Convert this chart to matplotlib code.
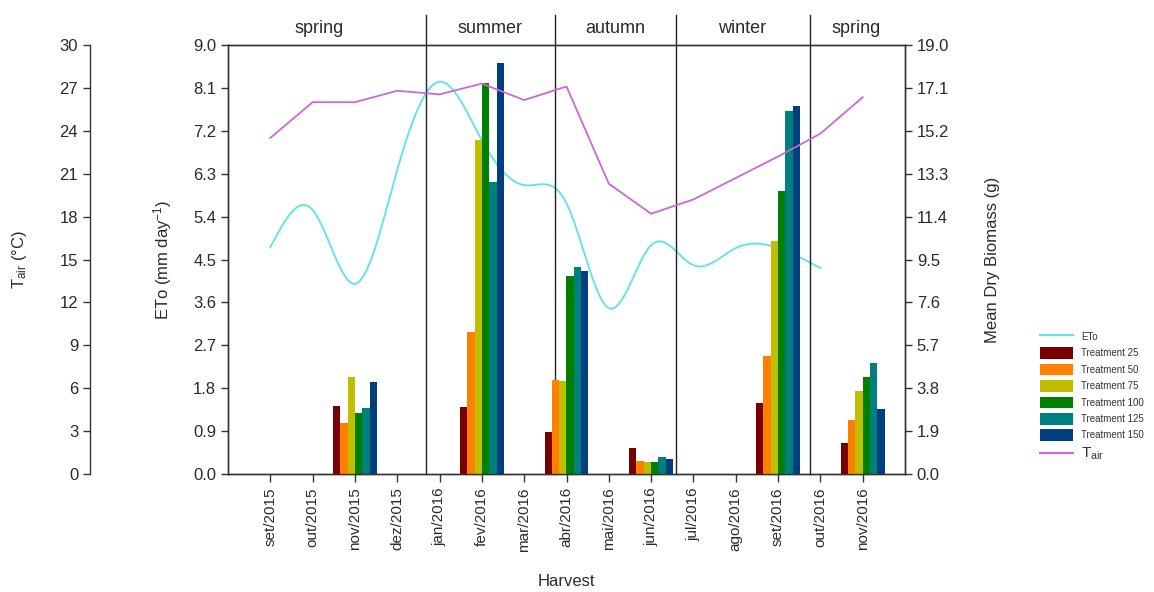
import numpy as np
import matplotlib
matplotlib.use("Agg")
import matplotlib.pyplot as plt
from matplotlib.patches import Patch
from matplotlib.lines import Line2D

plt.rcParams['font.family'] = ['Liberation Sans', 'DejaVu Sans']
plt.rcParams['mathtext.fontset'] = 'custom'
plt.rcParams['mathtext.rm'] = 'Liberation Sans'
plt.rcParams['mathtext.it'] = 'Liberation Sans:italic'
plt.rcParams['mathtext.bf'] = 'Liberation Sans:bold'

# ---- data ----
months = ["set/2015", "out/2015", "nov/2015", "dez/2015", "jan/2016", "fev/2016",
          "mar/2016", "abr/2016", "mai/2016", "jun/2016", "jul/2016", "ago/2016",
          "set/2016", "out/2016", "nov/2016"]

# monthly reference evapotranspiration (mm/day), set/2015 .. out/2016
eto = [4.76, 5.54, 3.99, 6.38, 8.23, 7.00, 6.06, 5.68, 3.48, 4.80, 4.38, 4.74, 4.74, 4.32]

# monthly mean air temperature (°C), set/2015 .. nov/2016
tair = [23.5, 26.0, 26.0, 26.8, 26.55, 27.3, 26.15, 27.1, 20.3, 18.2, 19.2, 20.7, 22.2, 23.8, 26.35]

# harvests and mean dry biomass (g) per treatment
harvests = ["nov/2015", "fev/2016", "abr/2016", "jun/2016", "set/2016", "nov/2016"]
treatments = ["Treatment 25", "Treatment 50", "Treatment 75",
              "Treatment 100", "Treatment 125", "Treatment 150"]
t25 = [3.02, 2.95, 1.84, 1.14, 3.13, 1.36]
t50 = [2.26, 6.30, 4.18, 0.58, 5.21, 2.39]
t75 = [4.31, 14.79, 4.10, 0.53, 10.33, 3.69]
t100 = [2.68, 17.30, 8.78, 0.52, 12.55, 4.31]
t125 = [2.92, 12.92, 9.15, 0.75, 16.09, 4.90]
t150 = [4.06, 18.22, 9.00, 0.65, 16.32, 2.88]

seasons = ["spring", "summer", "autumn", "winter", "spring"]
season_bounds = [3.67, 6.74, 9.59, 12.75]     # season changes, in month units
season_label_x = [1.15, 5.2, 8.15, 11.15, 13.85]

eto_ticks = [0.0, 0.9, 1.8, 2.7, 3.6, 4.5, 5.4, 6.3, 7.2, 8.1, 9.0]
tair_ticks = [0, 3, 6, 9, 12, 15, 18, 21, 24, 27, 30]
bio_ticks = [0.0, 1.9, 3.8, 5.7, 7.6, 9.5, 11.4, 13.3, 15.2, 17.1, 19.0]

bar_colors = ["#7a0000", "#ff7f00", "#bfbf00", "#007f00", "#007f7f", "#003f7f"]
eto_color = "#66e3ea"
tair_color = "#cc66dd"
text_color = "#2a2a2a"


def natural_spline(x, y, xs):
    x = np.asarray(x, float)
    y = np.asarray(y, float)
    n = len(x)
    h = np.diff(x)
    A = np.zeros((n, n))
    r = np.zeros(n)
    A[0, 0] = A[-1, -1] = 1.0
    for i in range(1, n - 1):
        A[i, i - 1] = h[i - 1]
        A[i, i] = 2 * (h[i - 1] + h[i])
        A[i, i + 1] = h[i]
        r[i] = 6 * ((y[i + 1] - y[i]) / h[i] - (y[i] - y[i - 1]) / h[i - 1])
    M = np.linalg.solve(A, r)
    idx = np.clip(np.searchsorted(x, xs) - 1, 0, n - 2)
    x0, x1 = x[idx], x[idx + 1]
    hh = x1 - x0
    a = (x1 - xs) / hh
    b = (xs - x0) / hh
    return (a * y[idx] + b * y[idx + 1]
            + ((a ** 3 - a) * M[idx] + (b ** 3 - b) * M[idx + 1]) * hh ** 2 / 6)


W, H = 1154, 592
fig = plt.figure(figsize=(W / 100, H / 100), dpi=100)
L, R, B, T = 228, 905, 474, 45
ax = fig.add_axes([L / W, 1 - B / H, (R - L) / W, (B - T) / H])
ax_b = ax.twinx()
ax_t = ax.twinx()

xm = np.arange(len(months))
tick_fs = 12

# ETo spline
xe = xm[:len(eto)]
xs = np.linspace(xe[0], xe[-1], 400)
eto_line, = ax.plot(xs, natural_spline(xe, eto, xs), color=eto_color, lw=1.4, zorder=2)
ax.set_ylim(0, 9)
ax.set_xlim(-1, 15)
ax.set_yticks(eto_ticks)
ax.set_yticklabels([f"{v:.1f}" for v in eto_ticks])
ax.set_ylabel("ETo (mm day$^{-1}$)", fontsize=12, color=text_color, labelpad=14)
ax.set_xticks(xm)
ax.set_xticklabels(months, rotation=90, fontsize=11, color=text_color)
ax.set_xlabel("Harvest", fontsize=12, color=text_color, labelpad=16)

# biomass bars
series = [t25, t50, t75, t100, t125, t150]
hx = np.array([months.index(h) for h in harvests])
bw = 0.173
bar_handles = []
for k, (vals, col) in enumerate(zip(series, bar_colors)):
    ax_b.bar(hx + (k - 2.5) * bw, vals, width=bw, color=col, lw=0, zorder=2)
    bar_handles.append(Patch(facecolor=col, label=treatments[k]))
ax_b.set_ylim(0, 19)
ax_b.set_yticks(bio_ticks)
ax_b.set_yticklabels([f"{v:.1f}" for v in bio_ticks])
ax_b.set_ylabel("Mean Dry Biomass (g)", fontsize=12, color=text_color, labelpad=26)

# air temperature
ax_t.plot(xm, tair, color=tair_color, lw=1.3, zorder=3)
ax_t.set_ylim(0, 30)
ax_t.set_yticks(tair_ticks)
ax_t.yaxis.set_ticks_position("left")
ax_t.yaxis.set_label_position("left")
ax_t.spines["left"].set_position(("axes", (90 - L) / (R - L)))
for s in ("right", "top", "bottom"):
    ax_t.spines[s].set_visible(False)
ax_t.spines["left"].set_visible(True)
ax_t.set_ylabel(r"T$_{\mathregular{air}}$ (°C)", fontsize=12, color=text_color, labelpad=22)

for a in (ax, ax_b, ax_t):
    a.tick_params(axis="y", direction="out", length=5, width=1, labelsize=tick_fs,
                  labelcolor=text_color, color="#333333")
    for s in a.spines.values():
        s.set_color("#333333")
        s.set_linewidth(1.0)
ax.tick_params(axis="x", direction="out", length=6, width=1, color="#333333")

# season dividers and names
ytop = (B - 15) / (B - T)
for xb in season_bounds:
    ax.axvline(xb, ymin=0, ymax=ytop, color="#222222", lw=1.0, clip_on=False, zorder=4)
for name, xl in zip(seasons, season_label_x):
    ax.text(xl, 1.038, name, transform=ax.get_xaxis_transform(), ha="center", va="center",
            fontsize=13, color=text_color)

# legend
handles = [Line2D([], [], color=eto_color, lw=1.5)] + bar_handles + \
          [Line2D([], [], color=tair_color, lw=1.5)]
labels = ["ETo"] + treatments + [r"T$_{\mathregular{air}}$"]
leg = fig.legend(handles, labels, loc="upper left", bbox_to_anchor=(1040 / W, 1 - 331 / H),
                 frameon=False, fontsize=7, handlelength=3.4, handleheight=1.45,
                 labelspacing=0.5, handletextpad=0.8, borderaxespad=0, borderpad=0)
for t in leg.get_texts():
    t.set_color("#333333")
leg.get_texts()[-1].set_fontsize(11)

fig.savefig("out.png", dpi=100, facecolor="white")
